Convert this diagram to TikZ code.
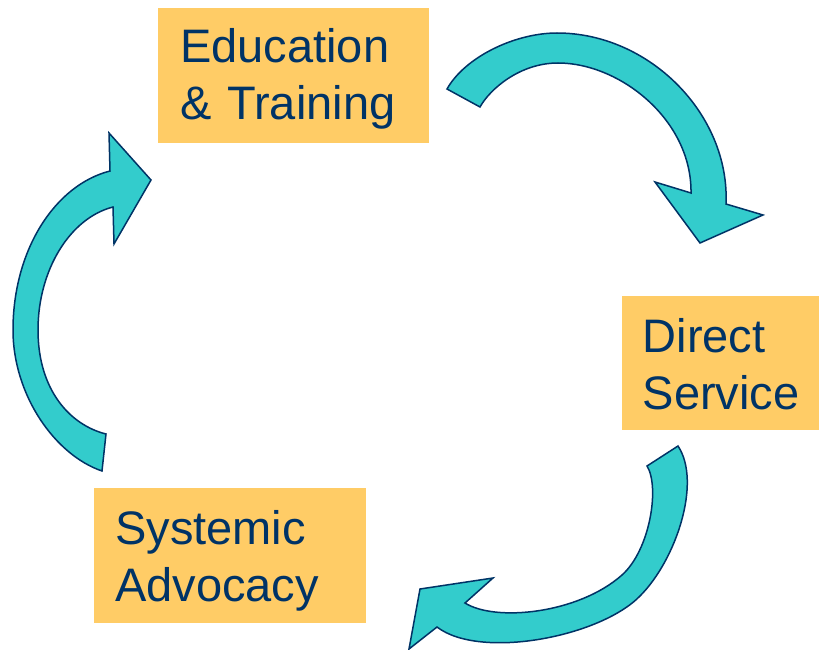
\documentclass[tikz,border=0pt]{standalone}
\usepackage{fontspec}
\setmainfont{Liberation Sans}
\definecolor{boxfill}{RGB}{255,204,102}
\definecolor{textblue}{RGB}{0,51,102}
\definecolor{arrowfill}{RGB}{51,204,204}
\definecolor{arrowline}{RGB}{0,51,102}
\tikzset{
  cyclearrow/.style={fill=arrowfill, draw=arrowline, line width=1.5pt, line join=miter},
  stagebox/.style={fill=boxfill, text=textblue, inner ysep=0pt, align=left,
    anchor=base west, font=\fontsize{47}{57}\selectfont}
}
\begin{document}
\begin{tikzpicture}[x=1pt,y=-1pt]
\useasboundingbox (0,0) rectangle (819,650);

% boxes
\node[stagebox, inner xsep=22pt, text width=227pt, text height=55pt, text depth=80pt] (edu) at (158,63) {Education\\\& Training};
\node[stagebox, inner xsep=20.5pt, text width=158pt, text height=56pt, text depth=78pt] (direct) at (622,352) {Direct\\Service};
\node[stagebox, inner xsep=21pt, text width=230pt, text height=56pt, text depth=79pt] (sys) at (94,544) {Systemic\\Advocacy};

% arrow: Education -> Direct Service
\draw[cyclearrow] (447,89)
  .. controls (465,57) and (515,33) .. (557,33)
  .. controls (650,33) and (730,115) .. (726,204)
  -- (763,215) -- (700,243) -- (655,182) -- (691,193)
  .. controls (692,120) and (620,63) .. (558,63)
  .. controls (520,63) and (490,89) .. (480,107)
  -- cycle;

% arrow: Direct Service -> Systemic Advocacy
\draw[cyclearrow] (678,446)
  .. controls (702,482) and (676,560) .. (640,596)
  .. controls (600,637) and (480,660) .. (437,627)
  -- (409,649) -- (420,589) -- (493,578) -- (465,603)
  .. controls (495,622) and (578,614) .. (622,575)
  .. controls (650,550) and (660,487) .. (647,466)
  -- cycle;

% arrow: Systemic Advocacy -> Education
\draw[cyclearrow] (102,471)
  .. controls (55,455) and (13,395) .. (13,330)
  .. controls (13,250) and (55,185) .. (110,171)
  -- (109,133) -- (151,180) -- (114,244) -- (113,207)
  .. controls (70,218) and (38,270) .. (38,330)
  .. controls (38,390) and (70,425) .. (106,434)
  -- cycle;
\end{tikzpicture}
\end{document}
